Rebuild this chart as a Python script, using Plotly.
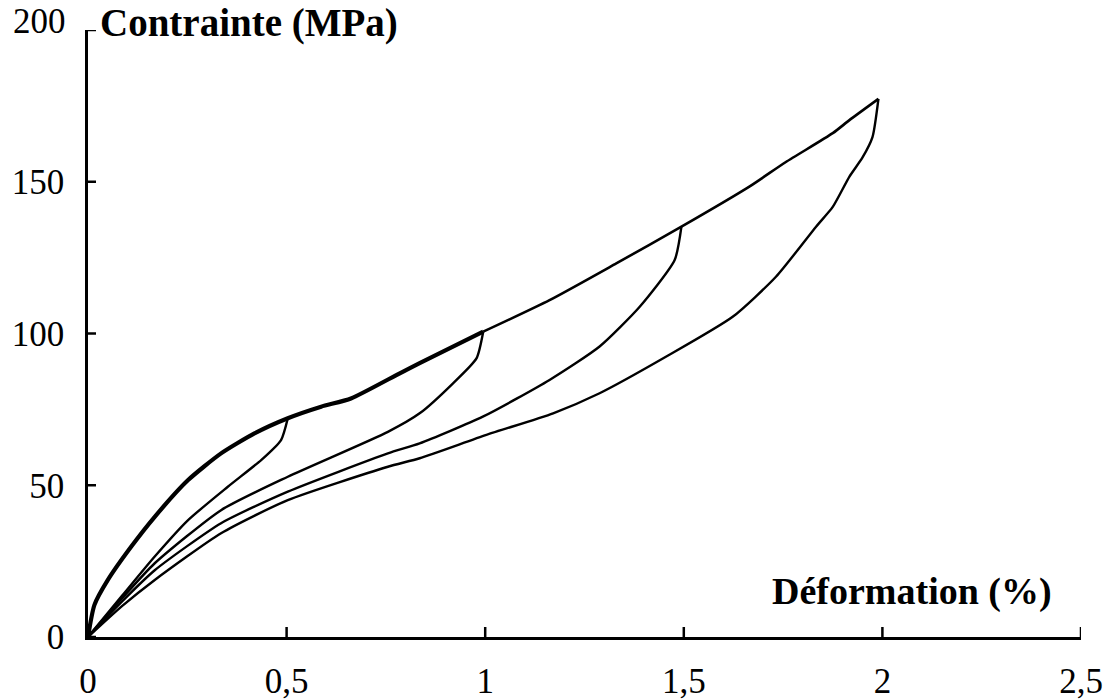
import plotly.graph_objects as go

# Envelope (monotonic loading curve)
env_x = [0, 0.016, 0.05, 0.109, 0.168, 0.252, 0.335, 0.419, 0.503, 0.587, 0.662,
         0.785, 0.835, 0.995, 1.162, 1.33, 1.494, 1.665, 1.757, 1.875, 1.917, 1.99]
env_y = [0, 10.5, 18.8, 29.8, 39.6, 51.7, 60.5, 67.1, 72.1, 75.9, 78.6,
         86.9, 90.2, 100.6, 111, 123.1, 135.2, 148.4, 156.5, 166, 170.3, 177.3]

# Unloading curves
unl05_x = [0, 0.084, 0.168, 0.252, 0.352, 0.436, 0.486, 0.503]
unl05_y = [0, 13.3, 26.5, 38.5, 49.5, 58.3, 64.9, 72.1]

unl10_x = [0, 0.084, 0.168, 0.335, 0.503, 0.755, 0.835, 0.919, 0.978, 0.995]
unl10_y = [0, 12.5, 24.3, 41.8, 52.8, 67.6, 73.7, 83.6, 91.8, 100.6]

unl15_x = [0, 0.084, 0.168, 0.335, 0.503, 0.755, 0.835, 0.994, 1.162, 1.288, 1.389, 1.477, 1.494]
unl15_y = [0, 11.5, 22, 37.5, 47.9, 60.5, 63.8, 72.6, 84.7, 95.7, 108.8, 124.2, 135.2]

unl20_x = [0, 0.084, 0.168, 0.335, 0.503, 0.755, 0.835, 1.003, 1.171, 1.288, 1.456, 1.623,
           1.732, 1.833, 1.875, 1.917, 1.95, 1.975, 1.99]
unl20_y = [0, 10, 18.8, 34.2, 45.1, 56.1, 58.9, 66.6, 73.7, 80.3, 92.4, 105.5,
           118.7, 135.2, 141.7, 151.7, 158, 164.7, 177.3]

x_ticks = [0, 0.5, 1, 1.5, 2, 2.5]
x_tick_labels = ["0", "0,5", "1", "1,5", "2", "2,5"]
y_ticks = [0, 50, 100, 150, 200]
y_tick_labels = ["0", "50", "100", "150", "200"]

FONT = "Liberation Serif, Times New Roman, serif"

fig = go.Figure()

line_kw = dict(shape="spline", smoothing=0.6, color="black")

# thick envelope part (loaded several times) up to 1 %
n_thick = sum(1 for v in env_x if v <= 1.0)
fig.add_trace(go.Scatter(x=env_x[:n_thick], y=env_y[:n_thick], mode="lines",
                         line=dict(width=4.2, **line_kw), showlegend=False))
fig.add_trace(go.Scatter(x=env_x[n_thick - 1:], y=env_y[n_thick - 1:], mode="lines",
                         line=dict(width=2.6, **line_kw), showlegend=False))
for xs, ys in [(unl05_x, unl05_y), (unl10_x, unl10_y), (unl15_x, unl15_y), (unl20_x, unl20_y)]:
    fig.add_trace(go.Scatter(x=xs, y=ys, mode="lines",
                             line=dict(width=2.4, **line_kw), showlegend=False))

# crossing tick marks (pixel-sized shapes anchored on the tick values)
shapes = []
for t in x_ticks:
    shapes.append(dict(type="line", xref="x", yref="y", x0=t, x1=t, ysizemode="pixel",
                       yanchor=0, y0=-10, y1=10, line=dict(color="black", width=2.5)))
for t in y_ticks:
    shapes.append(dict(type="line", xref="x", yref="y", y0=t, y1=t, xsizemode="pixel",
                       xanchor=0, x0=-8, x1=8, line=dict(color="black", width=2.5)))

# the top y label sits slightly above its tick in the original
y_axis_text = [lbl if v != max(y_ticks) else "" for v, lbl in zip(y_ticks, y_tick_labels)]
top_label = dict(text=y_tick_labels[-1], xref="paper", yref="y", x=0, y=max(y_ticks),
                 xanchor="right", yanchor="middle", xshift=-20, yshift=9, showarrow=False,
                 font=dict(size=35, family=FONT, color="black"))

axis_common = dict(showgrid=False, zeroline=False, ticks="", automargin=False,
                   showline=True, linecolor="black", linewidth=2.6)

fig.update_layout(
    width=1113, height=700,
    margin=dict(l=88, r=32, t=30, b=63),
    paper_bgcolor="white", plot_bgcolor="white",
    font=dict(family=FONT, color="black", size=35),
    xaxis=dict(range=[0, 2.5], tickvals=x_ticks, ticktext=x_tick_labels,
               tickfont=dict(size=35, family=FONT, color="black"), ticklabelstandoff=11,
               **axis_common),
    yaxis=dict(range=[0, 200], tickvals=y_ticks, ticktext=y_axis_text,
               tickfont=dict(size=35, family=FONT, color="black"), ticklabelstandoff=14,
               **axis_common),
    shapes=shapes,
    annotations=[
        top_label,
        dict(text="<b>Contrainte (MPa)</b>", xref="paper", yref="paper",
             x=0.010, y=1.012, xanchor="left", yanchor="middle", showarrow=False,
             font=dict(size=39, family=FONT, color="black")),
        dict(text="<b>Déformation (%)</b>", xref="x", yref="y",
             x=2.433, y=15, xanchor="right", yanchor="middle", showarrow=False,
             font=dict(size=38, family=FONT, color="black")),
    ],
)

fig.write_html(
    "out.html",
    config={"displayModeBar": False},
    post_script="document.body.style.margin='0';document.body.style.overflow='hidden';",
)
